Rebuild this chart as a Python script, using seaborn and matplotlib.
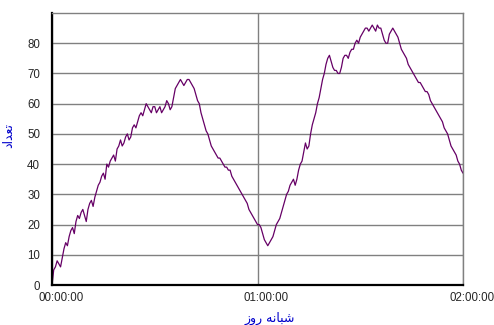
import matplotlib
matplotlib.use('Agg')
import matplotlib.pyplot as plt
import matplotlib.transforms as mtransforms
import pandas as pd
import seaborn as sns

# one reading every 30 seconds, 00:00:00 .. 02:00:00 (two per row = one minute)
counts = [0, 5, 6, 8, 7, 6, 9, 12, 14, 13,
          16, 18, 19, 17, 21, 23, 22, 24, 25, 23,
          21, 25, 27, 28, 26, 29, 31, 33, 34, 36,
          37, 35, 40, 39, 41, 42, 43, 41, 45, 46,
          48, 46, 47, 49, 50, 48, 49, 52, 53, 52,
          54, 56, 57, 56, 58, 60, 59, 58, 57, 59,
          59, 57, 58, 59, 57, 58, 59, 61, 60, 58,
          59, 62, 65, 66, 67, 68, 67, 66, 67, 68,
          68, 67, 66, 65, 63, 61, 60, 57, 55, 53,
          51, 50, 48, 46, 45, 44, 43, 42, 42, 41,
          40, 39, 39, 38, 38, 36, 35, 34, 33, 32,
          31, 30, 29, 28, 27, 25, 24, 23, 22, 21,
          20, 20, 19, 17, 15, 14, 13, 14, 15, 16,
          18, 20, 21, 22, 24, 26, 28, 30, 31, 33,
          34, 35, 33, 35, 38, 40, 41, 44, 47, 45,
          46, 50, 53, 55, 57, 60, 62, 65, 68, 70,
          73, 75, 76, 74, 72, 71, 71, 70, 70, 72,
          75, 76, 76, 75, 77, 78, 78, 80, 81, 80,
          82, 83, 84, 85, 85, 84, 85, 86, 85, 84,
          86, 85, 85, 83, 81, 80, 80, 83, 84, 85,
          84, 83, 82, 80, 78, 77, 76, 75, 73, 72,
          71, 70, 69, 68, 67, 67, 66, 65, 64, 64,
          63, 61, 60, 59, 58, 57, 56, 55, 54, 52,
          51, 50, 48, 46, 45, 44, 43, 41, 40, 38,
          37]
minutes = [i * 0.5 for i in range(len(counts))]
tick_pos = [0, 60, 120]
tick_labels = ['00:00:00', '01:00:00', '02:00:00']
y_ticks = [0, 10, 20, 30, 40, 50, 60, 70, 80]
# Persian labels written in presentation forms so they show joined, right to left
xlabel = '\uFEAF\uFEED\uFEAD \uFEEA\uFEE7\uFE8E\uFE92\uFEB7'   # شبانه روز
ylabel = '\uFEA9\uFE8D\uFEAA\uFECC\uFE97'                      # تعداد

df = pd.DataFrame({'minute': minutes, 'count': counts})

sns.set_style("white")
plt.rcParams['font.family'] = ['Liberation Sans', 'DejaVu Sans']

fig = plt.figure(figsize=(4.94, 3.25), dpi=100)
ax = fig.add_axes([52/494, 1-285/325, 411/494, 272/325])

sns.lineplot(x='minute', y='count', data=df, color='#660066', linewidth=0.9, ax=ax)

ax.set_xlim(0, 120)
ax.set_ylim(0, 90)
ax.set_xticks(tick_pos)
ax.set_xticklabels(tick_labels, fontsize=8.3)
ax.set_yticks(y_ticks)
ax.set_yticklabels([str(v) for v in y_ticks], fontsize=8.3)
ax.tick_params(axis='y', length=0, pad=8.5)
ax.tick_params(axis='x', length=0, pad=5)
off = mtransforms.ScaledTranslation(9/100, 0, fig.dpi_scale_trans)
for lab in ax.get_xticklabels():
    lab.set_transform(lab.get_transform() + off)

ax.grid(True, color='#808080', linewidth=1.0)
ax.set_axisbelow(True)
for s in ['top', 'right']:
    ax.spines[s].set_color('#808080')
    ax.spines[s].set_linewidth(1.0)
for s in ['left', 'bottom']:
    ax.spines[s].set_color('#000000')
    ax.spines[s].set_linewidth(1.6)

ax.set_xlabel('')
ax.set_ylabel('')
fig.text(270/494, 1-318/325, xlabel, color='#0000cc', fontsize=9,
         family='DejaVu Sans', ha='center', va='center')
fig.text(9/494, 1-136/325, ylabel, color='#0000cc', fontsize=9,
         family='DejaVu Sans', ha='center', va='center', rotation=90)

fig.savefig('out.png', dpi=100)
